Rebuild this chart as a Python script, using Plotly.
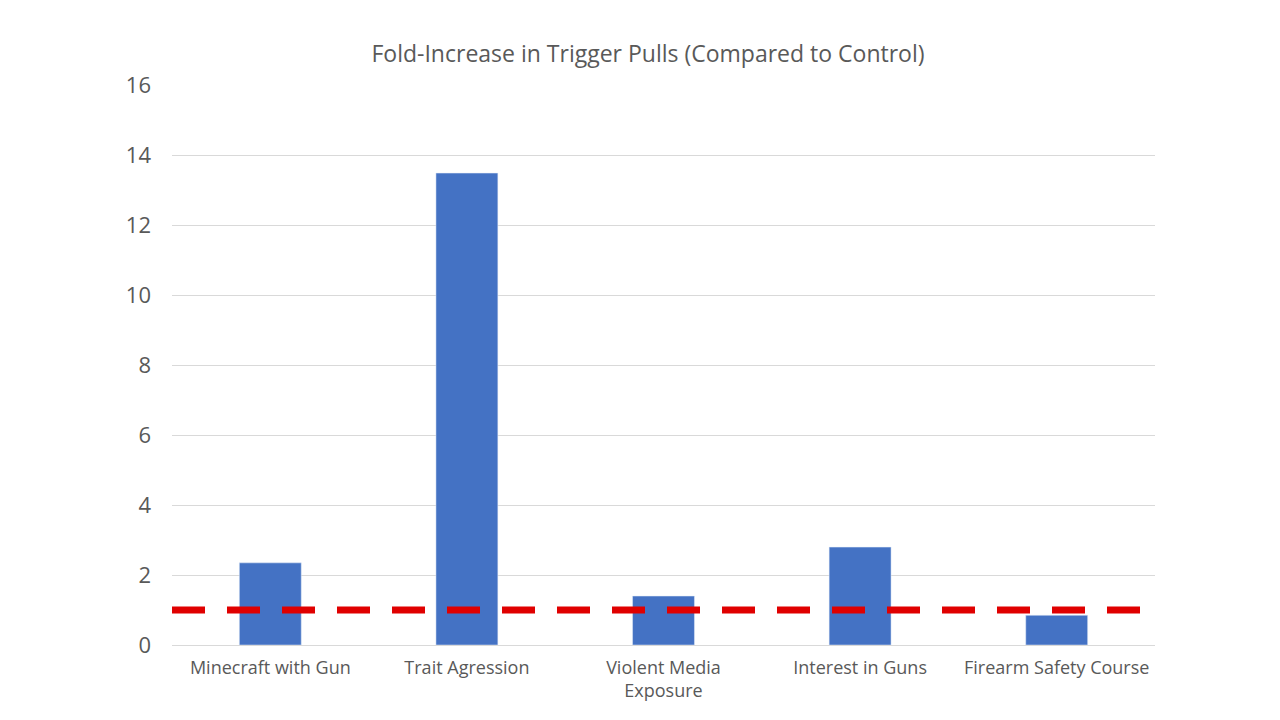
import plotly.graph_objects as go

categories = ["Minecraft with Gun", "Trait Agression", "Violent Media<br>Exposure",
              "Interest in Guns", "Firearm Safety Course"]
fold_increase = [2.35, 13.5, 1.4, 2.8, 0.85]
control_level = 1

fig = go.Figure(go.Bar(x=categories, y=fold_increase, marker_color="#4472C4"))

fig.add_shape(type="line", xref="paper", x0=0, x1=1, yref="y", y0=control_level, y1=control_level,
              line=dict(color="#E00000", width=7, dash="33px,22px"))

fig.update_layout(
    width=1280, height=720,
    paper_bgcolor="white", plot_bgcolor="white",
    margin=dict(l=164, r=133, t=77, b=83),
    bargap=0.685,
    showlegend=False,
    font=dict(family="Open Sans, sans-serif", color="#595959"),
    title=dict(text="Fold-Increase in Trigger Pulls (Compared to Control)",
               x=0.5, xanchor="center", y=0.948, font=dict(size=23, color="#595959")),
)
fig.update_yaxes(range=[0, 16.02], dtick=2, gridcolor="#D9D9D9", zeroline=False,
                 tickfont=dict(size=22), ticklabelstandoff=20)
fig.update_xaxes(showline=True, linecolor="#D9D9D9", tickfont=dict(size=18),
                 ticklabelstandoff=6)

fig.write_html("out.html")
